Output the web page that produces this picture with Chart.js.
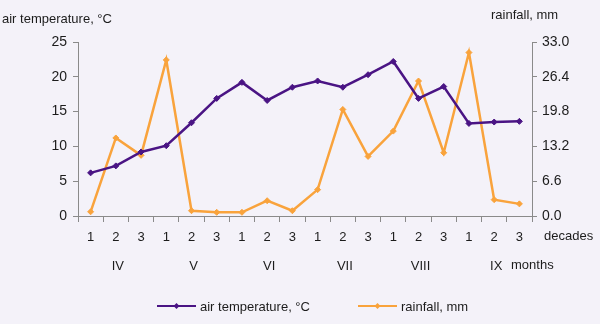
<!DOCTYPE html>
<html>
<head>
<meta charset="utf-8">
<script src="https://cdn.jsdelivr.net/npm/chart.js@4.4.1/dist/chart.umd.min.js"></script>
<style>
  html, body { margin: 0; padding: 0; background: #f4f2f9; }
  #wrap { width: 600px; height: 324px; position: relative; }
</style>
</head>
<body>
<div id="wrap"><canvas id="chart"></canvas></div>
<script>
var decades = ['1', '2', '3', '1', '2', '3', '1', '2', '3', '1', '2', '3', '1', '2', '3', '1', '2', '3'];
var months = ['IV', 'V', 'VI', 'VII', 'VIII', 'IX'];
var temperature = [6.2, 7.2, 9.2, 10.1, 13.4, 16.9, 19.2, 16.6, 18.5, 19.4, 18.5, 20.3, 22.2, 16.9, 18.6, 13.3, 13.5, 13.6];
var rainfall = [0.8, 14.8, 11.5, 29.6, 1.0, 0.7, 0.7, 2.9, 1.0, 5.0, 20.2, 11.3, 16.1, 25.6, 12.0, 31.0, 3.1, 2.3];
var tempTicks = [0, 5, 10, 15, 20, 25];
var rainTicks = [0, 6.6, 13.2, 19.8, 26.4, 33.0];

var purple = '#4a1484';
var orange = '#f9a33c';
var textColor = '#1c1c1c';
var axisColor = '#8a8a8a';
var font = 'Liberation Sans, Arial, sans-serif';

// extra text: axis titles, month row, legend
var extras = {
    id: 'extras',
    afterDraw: function (chart) {
        var ctx = chart.ctx;
        var x = chart.scales.x;
        ctx.save();
        ctx.fillStyle = textColor;
        ctx.font = '13px ' + font;
        ctx.textBaseline = 'middle';
        ctx.textAlign = 'left';
        ctx.fillText('air temperature, \u00b0C', 2, 19);
        ctx.fillText('rainfall, mm', 491, 15);
        ctx.fillText('decades', 544, 236);
        ctx.fillText('months', 511, 265);

        ctx.textAlign = 'center';
        months.forEach(function (m, i) {
            var a = x.getPixelForValue(i * 3);
            var b = x.getPixelForValue(i * 3 + 2);
            ctx.fillText(m, (a + b) / 2 + 2, 266);
        });

        // legend
        var items = [['air temperature, \u00b0C', purple, 157], ['rainfall, mm', orange, 358]];
        items.forEach(function (it) {
            var x0 = it[2], y0 = 306;
            ctx.strokeStyle = it[1];
            ctx.lineWidth = 2;
            ctx.beginPath();
            ctx.moveTo(x0, y0);
            ctx.lineTo(x0 + 39, y0);
            ctx.stroke();
            ctx.fillStyle = it[1];
            ctx.beginPath();
            ctx.moveTo(x0 + 19.5, y0 - 3);
            ctx.lineTo(x0 + 22.5, y0);
            ctx.lineTo(x0 + 19.5, y0 + 3);
            ctx.lineTo(x0 + 16.5, y0);
            ctx.closePath();
            ctx.fill();
            ctx.fillStyle = textColor;
            ctx.textAlign = 'left';
            ctx.fillText(it[0], x0 + 43, y0 + 1);
        });
        ctx.restore();
    }
};

var ctx = document.getElementById('chart').getContext('2d');
var chart = new Chart(ctx, {
    type: 'line',
    data: {
        labels: decades,
        datasets: [
            {
                label: 'air temperature, \u00b0C',
                data: temperature,
                yAxisID: 'y',
                borderColor: purple,
                backgroundColor: purple,
                borderWidth: 2.5,
                pointStyle: 'rectRot',
                pointRadius: 3,
                pointBorderWidth: 1,
                tension: 0
            },
            {
                label: 'rainfall, mm',
                data: rainfall,
                yAxisID: 'y1',
                borderColor: orange,
                backgroundColor: orange,
                borderWidth: 2.5,
                pointStyle: 'rectRot',
                pointRadius: 3,
                pointBorderWidth: 1,
                tension: 0
            }
        ]
    },
    options: {
        responsive: true,
        maintainAspectRatio: false,
        animation: false,
        layout: { padding: { top: 42, left: 0, right: 0, bottom: 0 } },
        plugins: { legend: { display: false }, tooltip: { enabled: false } },
        scales: {
            x: {
                offset: true,
                grid: { offset: true, drawOnChartArea: false, color: axisColor, tickLength: 6 },
                border: { color: axisColor, width: 1 },
                ticks: { color: textColor, font: { family: font, size: 13 }, padding: 8, maxRotation: 0, autoSkip: false },
                afterFit: function (s) { s.height = 108; }
            },
            y: {
                position: 'left',
                min: 0, max: 25,
                afterBuildTicks: function (s) { s.ticks = tempTicks.map(function (v) { return { value: v }; }); },
                grid: { drawOnChartArea: false, color: axisColor, tickLength: 5 },
                border: { color: axisColor, width: 1 },
                ticks: { color: textColor, font: { family: font, size: 14 }, padding: 6 },
                afterFit: function (s) { s.width = 78; }
            },
            y1: {
                position: 'right',
                min: 0, max: 33,
                afterBuildTicks: function (s) { s.ticks = rainTicks.map(function (v) { return { value: v }; }); },
                grid: { drawOnChartArea: false, color: axisColor, tickLength: 5 },
                border: { color: axisColor, width: 1 },
                ticks: {
                    color: textColor, font: { family: font, size: 14 }, padding: 5,
                    callback: function (v) { return Number(v).toFixed(1); }
                },
                afterFit: function (s) { s.width = 68; }
            }
        }
    },
    plugins: [extras]
});
</script>
</body>
</html>
